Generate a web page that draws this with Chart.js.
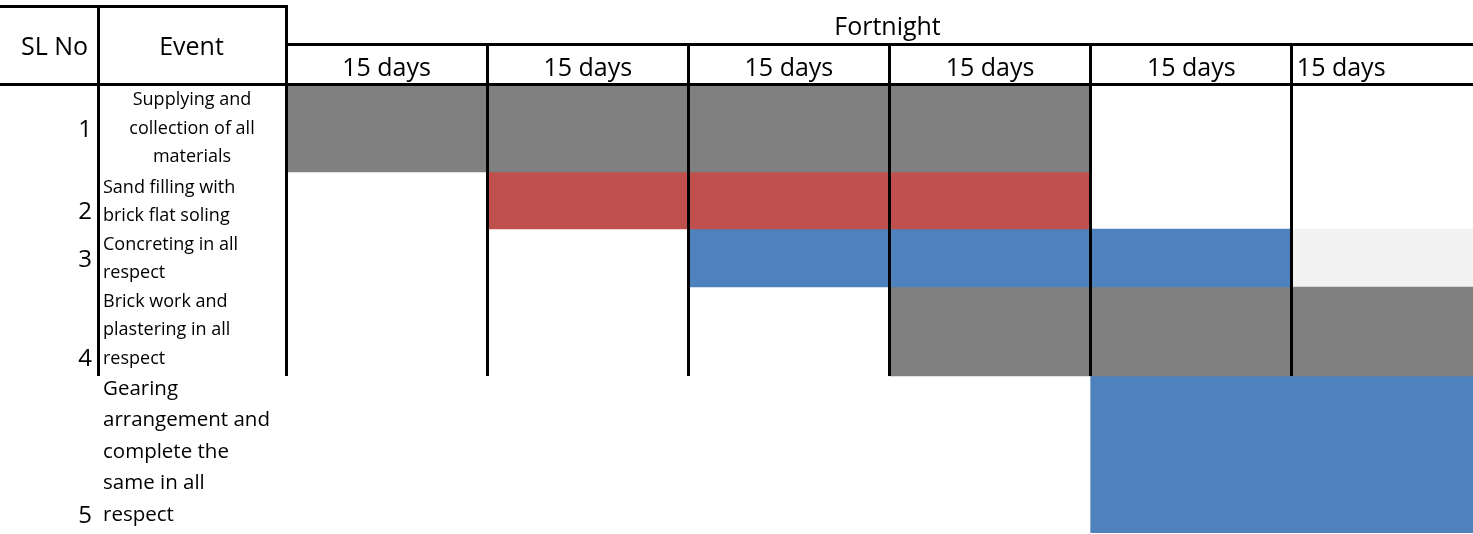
<!DOCTYPE html>
<html>
<head>
<meta charset="utf-8">
<script src="https://cdn.jsdelivr.net/npm/chart.js@4/dist/chart.umd.min.js"></script>
<style>
  html, body { margin: 0; padding: 0; background: #ffffff; overflow: hidden; width: 1473px; height: 534px; }
  #wrap { position: relative; width: 1493px; height: 534px; }
  canvas { display: block; }
</style>
</head>
<body>
<div id="wrap"><canvas id="c" width="1493" height="534"></canvas></div>
<script>
// ---------------- DATA ----------------
const slNo = ['1', '2', '3', '4', '5'];
const events = [
  ['Supplying and', 'collection of all', 'materials'],
  ['Sand filling with', 'brick flat soling'],
  ['Concreting in all', 'respect'],
  ['Brick work and', 'plastering in all', 'respect'],
  ['Gearing', 'arrangement and', 'complete the', 'same in all', 'respect']
];
const headerSl = 'SL No';
const headerEvent = 'Event';
const headerPeriod = 'Fortnight';
const periods = ['15 days', '15 days', '15 days', '15 days', '15 days', '15 days'];
// task bars: start / end in fortnights
const taskStart = [0, 1, 2, 3, 4];
const taskEnd   = [4, 4, 5, 6, 6];
// lightly shaded cell (row index, start, end)
const shadeRow = [2];
const shadeStart = [5];
const shadeEnd = [6];

// ---------------- LAYOUT / STYLE ----------------
const ROW_HEIGHTS = [88, 57, 58, 89, 157];
const TASK_COLORS = ['#808080', '#C0504D', '#4F81BD', '#808080', '#4F81BD'];
const SHADE_COLOR = '#F2F2F2';
const SL_VALIGN = ['middle', 'bottom', 'middle', 'bottom', 'bottom'];
const EVENT_HALIGN = ['center', 'left', 'left', 'left', 'left'];
const EVENT_FONT = [18, 18, 18, 18, 20.5];
const EVENT_LINE = [28.7, 28.7, 28.7, 28.7, 31.4];
const EVENT_FIRST = [21, 20.5, 20.5, 19.5, 19];
const PERIOD_HALIGN = ['center', 'center', 'center', 'center', 'center', 'left'];
const FONT = '"Open Sans", "DejaVu Sans", sans-serif';
const TABLE_TOP = 6, HEADER_MID = 44, HEADER_BOTTOM = 84, SL_COL_RIGHT = 98;

const rowTops = [];
let acc = 0;
ROW_HEIGHTS.forEach(h => { rowTops.push(acc); acc += h; });
const totalHeight = acc;

const datasets = [];
taskStart.forEach((s, i) => {
  datasets.push({
    label: 'Event ' + slNo[i],
    data: [{ x: [s, taskEnd[i]], y: rowTops[i] + ROW_HEIGHTS[i] / 2 }],
    backgroundColor: TASK_COLORS[i],
    borderWidth: 0,
    barThickness: ROW_HEIGHTS[i],
    grouped: false
  });
});
shadeRow.forEach((r, k) => {
  datasets.push({
    label: 'shade',
    data: [{ x: [shadeStart[k], shadeEnd[k]], y: rowTops[r] + ROW_HEIGHTS[r] / 2 }],
    backgroundColor: SHADE_COLOR,
    borderWidth: 0,
    barThickness: ROW_HEIGHTS[r],
    grouped: false
  });
});

const tablePlugin = {
  id: 'tablePlugin',
  afterDatasetsDraw(chart) {
    const ctx = chart.ctx;
    const xs = chart.scales.x, ys = chart.scales.y;
    const W = chart.width;
    const colX = v => xs.getPixelForValue(v);
    const snap = p => Math.floor(p) + 0.5;
    const bodyBottom = ys.getPixelForValue(rowTops[3] + ROW_HEIGHTS[3]);
    ctx.save();
    ctx.strokeStyle = '#000000';
    ctx.lineWidth = 3;
    ctx.lineCap = 'square';
    const line = (x1, y1, x2, y2) => { ctx.beginPath(); ctx.moveTo(x1, y1); ctx.lineTo(x2, y2); ctx.stroke(); };
    const x0 = snap(colX(0));
    line(0, snap(TABLE_TOP), x0, snap(TABLE_TOP));
    line(x0, snap(HEADER_MID), W, snap(HEADER_MID));
    line(0, snap(HEADER_BOTTOM), W, snap(HEADER_BOTTOM));
    ctx.lineCap = 'butt';
    line(snap(SL_COL_RIGHT), TABLE_TOP, snap(SL_COL_RIGHT), bodyBottom);
    line(x0, TABLE_TOP, x0, bodyBottom);
    for (let k = 1; k < periods.length; k++) {
      const px = snap(colX(k));
      line(px, HEADER_MID, px, bodyBottom);
    }

    ctx.fillStyle = '#000000';
    ctx.textBaseline = 'alphabetic';
    // header
    ctx.font = '25px ' + FONT;
    ctx.textAlign = 'center';
    ctx.fillText(headerSl, 54.5, 55);
    ctx.fillText(headerEvent, 191.5, 55);
    ctx.fillText(headerPeriod, (colX(0) + colX(periods.length)) / 2 - 2, 35);
    periods.forEach((p, k) => {
      if (PERIOD_HALIGN[k] === 'left') {
        ctx.textAlign = 'left';
        ctx.fillText(p, colX(k) + 5, 76);
      } else {
        ctx.textAlign = 'center';
        ctx.fillText(p, (colX(k) + colX(k + 1)) / 2, 76);
      }
    });
    // rows
    slNo.forEach((n, i) => {
      const top = ys.getPixelForValue(rowTops[i]);
      const bottom = ys.getPixelForValue(rowTops[i] + ROW_HEIGHTS[i]);
      ctx.font = '24px ' + FONT;
      ctx.textAlign = 'right';
      const by = SL_VALIGN[i] === 'middle' ? (top + bottom) / 2 + 9 : bottom - 10;
      ctx.fillText(n, 92, by);
      ctx.font = EVENT_FONT[i] + 'px ' + FONT;
      events[i].forEach((t, j) => {
        const y = top + EVENT_FIRST[i] + j * EVENT_LINE[i];
        if (EVENT_HALIGN[i] === 'center') {
          ctx.textAlign = 'center';
          ctx.fillText(t, (SL_COL_RIGHT + colX(0)) / 2, y);
        } else {
          ctx.textAlign = 'left';
          ctx.fillText(t, 103, y);
        }
      });
    });
    ctx.restore();
  }
};

new Chart(document.getElementById('c'), {
  type: 'bar',
  data: { datasets },
  options: {
    indexAxis: 'y',
    responsive: false,
    animation: false,
    devicePixelRatio: 1,
    layout: { padding: { left: 286, top: 84, right: 0, bottom: 1 } },
    plugins: { legend: { display: false }, tooltip: { enabled: false }, title: { display: false } },
    scales: {
      x: { type: 'linear', min: 0, max: periods.length, offset: false, display: false },
      y: { type: 'linear', min: 0, max: totalHeight, reverse: true, offset: false, display: false }
    }
  },
  plugins: [tablePlugin]
});
</script>
</body>
</html>
